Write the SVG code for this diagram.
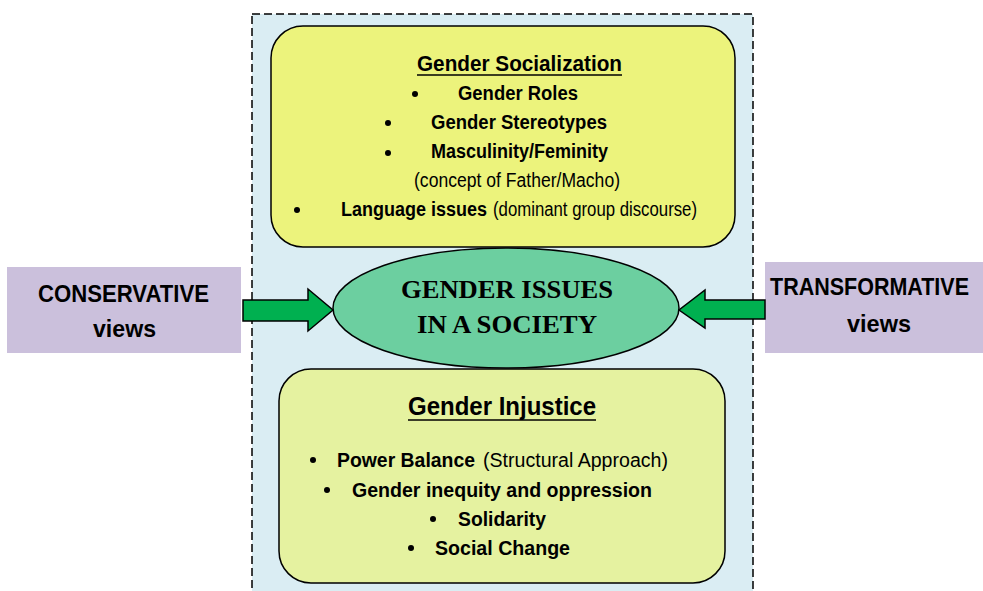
<svg xmlns="http://www.w3.org/2000/svg" width="983" height="591" viewBox="0 0 983 591">
<style>
.b{font-family:"Liberation Sans",Arial,sans-serif;font-weight:bold;fill:#000}
.r{font-family:"Liberation Sans",Arial,sans-serif;font-weight:normal;fill:#000}
.s{font-family:"Liberation Serif","Times New Roman",serif;font-weight:bold;fill:#000}
.box{stroke:#000;stroke-width:1.5}
.arrow{fill:#00b050;stroke:#000;stroke-width:1.5;stroke-linejoin:miter}
.view{fill:#cbc0dc}
</style>
<rect width="983" height="591" fill="#fff"/>
<g id="frame">
<rect x="252" y="14" width="501" height="590" fill="#daedf3" stroke="#000" stroke-width="1.5" stroke-dasharray="8,4"/>
</g>
<g id="socialization">
<rect class="box" x="271" y="26" width="464" height="221" rx="32" fill="#ecf37c"/>
<text class="b" x="417" y="71" font-size="22" textLength="205" lengthAdjust="spacingAndGlyphs">Gender Socialization</text>
<line x1="417" y1="75" x2="622" y2="75" stroke="#000" stroke-width="1.5"/>
<circle cx="415" cy="94" r="3"/>
<text class="b" x="458" y="100" font-size="19.5" textLength="120" lengthAdjust="spacingAndGlyphs">Gender Roles</text>
<circle cx="388" cy="123" r="3"/>
<text class="b" x="431" y="129" font-size="19.5" textLength="176" lengthAdjust="spacingAndGlyphs">Gender Stereotypes</text>
<circle cx="388" cy="153" r="3"/>
<text class="b" x="431" y="158" font-size="19.5" textLength="177" lengthAdjust="spacingAndGlyphs">Masculinity/Feminity</text>
<text class="r" x="414" y="187" font-size="19.5" textLength="206" lengthAdjust="spacingAndGlyphs">(concept of Father/Macho)</text>
<circle cx="297" cy="210" r="3"/>
<text class="b" x="341" y="216" font-size="19.5" textLength="146" lengthAdjust="spacingAndGlyphs">Language issues</text>
<text class="r" x="493" y="216" font-size="19.5" textLength="204" lengthAdjust="spacingAndGlyphs">(dominant group discourse)</text>
</g>
<g id="injustice">
<rect class="box" x="279" y="369" width="446" height="214" rx="32" fill="#e5f2a0"/>
<text class="b" x="408" y="415" font-size="26" textLength="188" lengthAdjust="spacingAndGlyphs">Gender Injustice</text>
<line x1="408" y1="420" x2="596" y2="420" stroke="#000" stroke-width="1.5"/>
<circle cx="313" cy="460" r="3"/>
<text class="b" x="337" y="467" font-size="20" textLength="138" lengthAdjust="spacingAndGlyphs">Power Balance</text>
<text class="r" x="483" y="467" font-size="20" textLength="185" lengthAdjust="spacingAndGlyphs">(Structural Approach)</text>
<circle cx="327" cy="490" r="3"/>
<text class="b" x="352" y="497" font-size="20" textLength="300" lengthAdjust="spacingAndGlyphs">Gender inequity and oppression</text>
<circle cx="433" cy="519" r="3"/>
<text class="b" x="458" y="526" font-size="20" textLength="88" lengthAdjust="spacingAndGlyphs">Solidarity</text>
<circle cx="411" cy="548" r="3"/>
<text class="b" x="435" y="555" font-size="20" textLength="135" lengthAdjust="spacingAndGlyphs">Social Change</text>
</g>
<g id="conservative">
<rect class="view" x="7" y="267" width="234" height="86"/>
<text class="b" x="38" y="302" font-size="24" textLength="171" lengthAdjust="spacingAndGlyphs">CONSERVATIVE</text>
<text class="b" x="93" y="337" font-size="24" textLength="63" lengthAdjust="spacingAndGlyphs">views</text>
</g>
<g id="transformative">
<rect class="view" x="765" y="262" width="218" height="91"/>
<text class="b" x="770" y="295" font-size="23" textLength="199" lengthAdjust="spacingAndGlyphs">TRANSFORMATIVE</text>
<text class="b" x="847" y="332" font-size="24" textLength="64" lengthAdjust="spacingAndGlyphs">views</text>
</g>
<g id="connectors">
<polygon class="arrow" points="243,300 308,300 308,289 333,310 308,331 308,321 243,321"/>
<polygon class="arrow" points="765,300 705,300 705,290 679,310 705,328 705,319 765,319"/>
</g>
<g id="center">
<ellipse class="box" cx="506" cy="308" rx="173" ry="60" fill="#6ccfa0"/>
<text class="s" x="401" y="298" font-size="26" textLength="212" lengthAdjust="spacingAndGlyphs">GENDER ISSUES</text>
<text class="s" x="417" y="333" font-size="26" textLength="180" lengthAdjust="spacingAndGlyphs">IN A SOCIETY</text>
</g>
</svg>
